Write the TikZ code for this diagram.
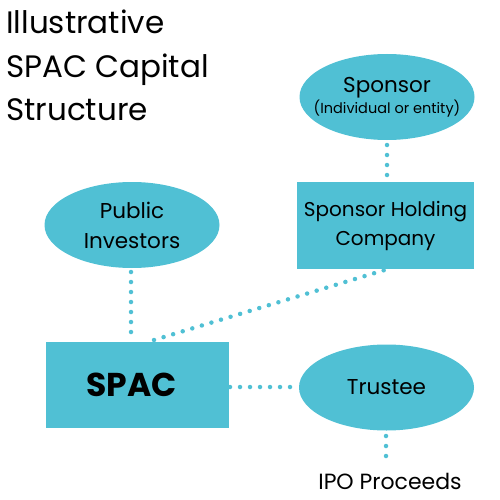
\documentclass[tikz,border=0pt]{standalone}
\usepackage{fontspec}
\setmainfont{Poppins}
\usetikzlibrary{shapes.geometric}
\definecolor{teal}{HTML}{50C0D4}
\begin{document}
\begin{tikzpicture}[x=1pt,y=-1pt,
  ell/.style={ellipse,fill=teal,minimum width=175pt,minimum height=86pt,inner sep=0pt,align=center,font=\fontsize{21.5}{30}\selectfont},
  box/.style={rectangle,fill=teal,inner sep=0pt,align=center,font=\fontsize{20}{29}\selectfont},
  dots/.style={draw=teal,line width=4.5pt,line cap=round,dash pattern=on 0pt off 10pt},
  lbl/.style={inner sep=0pt,font=\fontsize{22}{24}\selectfont}]
\useasboundingbox (0,0) rectangle (500,500);
\node[anchor=north west,inner sep=0pt,align=left,font=\fontsize{31}{43.5}\selectfont] (title) at (6,10) {Illustrative\\SPAC Capital\\Structure};
\node[ell] (sponsor) at (387,97) {\makebox[0pt]{Sponsor}\\[-9pt]\makebox[0pt]{\fontsize{14.5}{18}\selectfont (Individual or entity)}};
\node[box,minimum width=177pt,minimum height=87pt] (shc) at (385.5,225.5) {Sponsor Holding\\Company};
\node[ell] (public) at (132,225) {Public\\Investors};
\node[box,minimum width=183pt,minimum height=86pt,font=\fontsize{33}{36}\selectfont\bfseries] (spac) at (137.5,385) {SPAC\hspace*{12pt}};
\node[ell] (trustee) at (386.5,387.5) {Trustee};
\node[lbl] (ipo) at (390,481) {IPO Proceeds};
\coordinate (a1) at (387,145);
\coordinate (a2) at (387,176);
\coordinate (b1) at (131,272);
\coordinate (b2) at (131,333);
\coordinate (c1) at (154,340);
\coordinate (c2) at (388,269);
\coordinate (d1) at (230,387);
\coordinate (d2) at (300,387);
\coordinate (e1) at (386,436);
\coordinate (e2) at (386,458);
\draw[dots] (a1) -- (a2);
\draw[dots] (b1) -- (b2);
\draw[dots] (c1) -- (c2);
\draw[dots] (d1) -- (d2);
\draw[dots] (e1) -- (e2);
\end{tikzpicture}
\end{document}
